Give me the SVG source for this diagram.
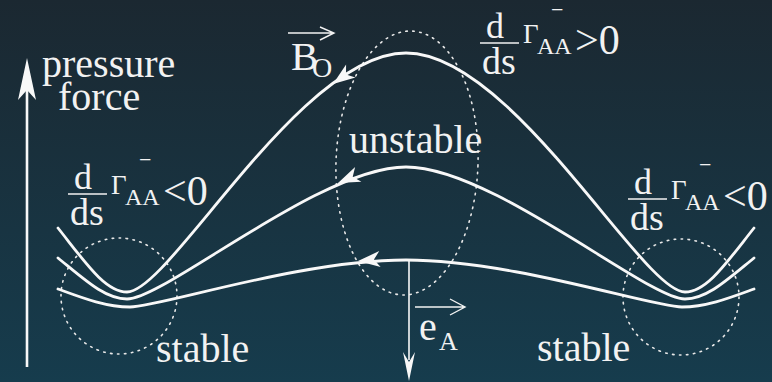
<svg xmlns="http://www.w3.org/2000/svg" width="772" height="382" viewBox="0 0 772 382">
<defs>
<linearGradient id="bg" x1="0" y1="0" x2="0" y2="1">
<stop offset="0" stop-color="#1b2831"/>
<stop offset="1" stop-color="#163c4d"/>
</linearGradient>
</defs>
<rect width="772" height="382" fill="url(#bg)"/>

<g id="regions" fill="none" stroke="#e8e8e8" stroke-width="1.6" stroke-dasharray="1.5 5.5" stroke-linecap="round">
<ellipse cx="407" cy="163" rx="71" ry="132" transform="rotate(2 407 163)"/>
<circle cx="119" cy="296" r="58"/>
<circle cx="681" cy="297" r="58"/>
</g>

<g id="connectors">
<g fill="none" stroke="#f8f8f8" stroke-width="2.8" stroke-linecap="round">
<path d="M58,228 C85,262 105,292 127,292 C170,292 300,53 406,53 C512,53 642,292 685,292 C707,292 727,262 754,228"/>
<path d="M58,258 C85,280 105,299 127,299 C165,299 320,167 406,167 C492,167 647,299 685,299 C707,299 727,280 754,258"/>
<path d="M58,289 C80,297 105,307 130,307 C160,307 300,260 406,260 C512,260 652,307 682,307 C707,307 732,297 754,289"/>
</g>
<g fill="#f8f8f8">
<path transform="translate(333,84) rotate(-36)" d="M0,0 L22,-8 L16,0 L22,8 Z"/>
<path transform="translate(338,183) rotate(-23)" d="M0,0 L22,-8 L16,0 L22,8 Z"/>
<path transform="translate(358,261) rotate(-5)" d="M0,0 L22,-8 L16,0 L22,8 Z"/>
<path d="M27,58 L36,100 L27,90 L18,100 Z"/>
<path d="M409,381 L415,352 L409,362 L403,352 Z"/>
</g>
<line x1="27" y1="367" x2="27" y2="85" stroke="#f8f8f8" stroke-width="2.6"/>
<line x1="409" y1="260" x2="409" y2="360" stroke="#f8f8f8" stroke-width="1.6"/>
</g>

<g id="label-pressure">
<text font-family="Liberation Serif, serif" fill="#f2f2f2" font-size="40" x="42" y="77">pressure</text>
<text font-family="Liberation Serif, serif" fill="#f2f2f2" font-size="40" x="58" y="110">force</text>
</g>

<g id="label-unstable"><text font-family="Liberation Serif, serif" fill="#f2f2f2" font-size="40" x="349" y="153">unstable</text></g>
<g id="label-stable-left"><text font-family="Liberation Serif, serif" fill="#f2f2f2" font-size="40" x="156" y="362">stable</text></g>
<g id="label-stable-right"><text font-family="Liberation Serif, serif" fill="#f2f2f2" font-size="40" x="537" y="361">stable</text></g>

<g id="label-B0">
<text font-family="Liberation Serif, serif" fill="#f2f2f2" x="291" y="70" font-size="41">B</text>
<text font-family="Liberation Serif, serif" fill="#f2f2f2" x="312" y="77" font-size="28">O</text>
<path fill="none" stroke="#f2f2f2" stroke-width="1.4" d="M288,33 H334 M320,27 L334,33 L320,40"/>
</g>

<g id="label-eA">
<text font-family="Liberation Serif, serif" fill="#f2f2f2" x="419" y="340" font-size="40">e</text>
<text font-family="Liberation Serif, serif" fill="#f2f2f2" x="439" y="350" font-size="26">A</text>
<path fill="none" stroke="#f2f2f2" stroke-width="1.4" d="M415,307 H465 M450,299 L465,307 L450,315"/>
</g>

<g id="frac-left">
<text font-family="Liberation Serif, serif" fill="#f2f2f2" font-size="36" x="74" y="189">d</text>
<line x1="68" y1="194" x2="107" y2="194" stroke="#f2f2f2" stroke-width="1.5"/>
<text font-family="Liberation Serif, serif" fill="#f2f2f2" font-size="38" x="70" y="225">ds</text>
<text font-family="Liberation Serif, serif" fill="#f2f2f2" font-size="27" x="111" y="194">&#915;</text>
<text font-family="Liberation Serif, serif" fill="#f2f2f2" font-size="22" x="139" y="167">&#8722;</text>
<text font-family="Liberation Serif, serif" fill="#f2f2f2" font-size="24" x="125" y="205">AA</text>
<text font-family="Liberation Serif, serif" fill="#f2f2f2" font-size="42" x="163" y="205">&lt;0</text>
</g>

<g id="frac-top">
<text font-family="Liberation Serif, serif" fill="#f2f2f2" font-size="36" x="486" y="38">d</text>
<line x1="480" y1="43" x2="519" y2="43" stroke="#f2f2f2" stroke-width="1.5"/>
<text font-family="Liberation Serif, serif" fill="#f2f2f2" font-size="38" x="482" y="74">ds</text>
<text font-family="Liberation Serif, serif" fill="#f2f2f2" font-size="27" x="523" y="43">&#915;</text>
<text font-family="Liberation Serif, serif" fill="#f2f2f2" font-size="22" x="551" y="17">&#8722;</text>
<text font-family="Liberation Serif, serif" fill="#f2f2f2" font-size="24" x="537" y="54">AA</text>
<text font-family="Liberation Serif, serif" fill="#f2f2f2" font-size="42" x="575" y="54">&gt;0</text>
</g>

<g id="frac-right">
<text font-family="Liberation Serif, serif" fill="#f2f2f2" font-size="36" x="634" y="194">d</text>
<line x1="628" y1="199" x2="667" y2="199" stroke="#f2f2f2" stroke-width="1.5"/>
<text font-family="Liberation Serif, serif" fill="#f2f2f2" font-size="38" x="630" y="230">ds</text>
<text font-family="Liberation Serif, serif" fill="#f2f2f2" font-size="27" x="671" y="199">&#915;</text>
<text font-family="Liberation Serif, serif" fill="#f2f2f2" font-size="22" x="699" y="172">&#8722;</text>
<text font-family="Liberation Serif, serif" fill="#f2f2f2" font-size="24" x="685" y="210">AA</text>
<text font-family="Liberation Serif, serif" fill="#f2f2f2" font-size="42" x="723" y="210">&lt;0</text>
</g>
</svg>
